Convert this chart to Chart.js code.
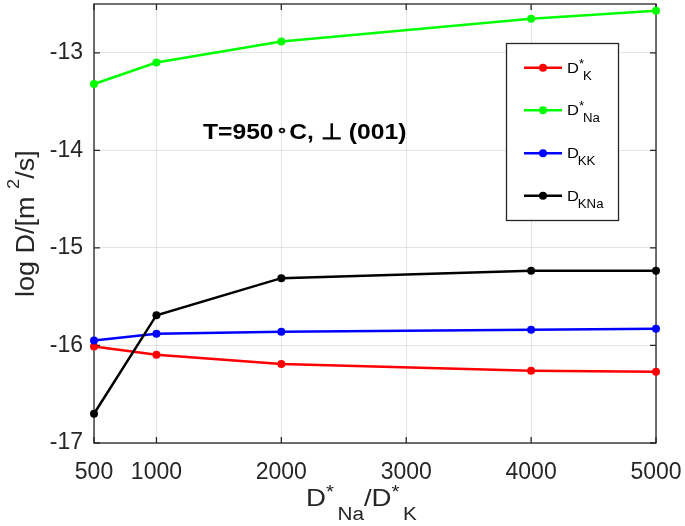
<!DOCTYPE html>
<html><head><meta charset="utf-8">
<style>html,body{margin:0;padding:0;background:#fff}canvas{display:block}</style>
<script src="https://cdn.jsdelivr.net/npm/chart.js@4"></script>
</head><body>
<canvas id="c" width="685" height="526"></canvas>
<script>
// ---- data ----
const xValues = [500, 1000, 2000, 4000, 5000];
const dStarK  = [-16.01, -16.095, -16.19, -16.26, -16.27];
const dStarNa = [-13.32, -13.10, -12.885, -12.65, -12.57];
const dKK     = [-15.95, -15.88, -15.86, -15.84, -15.83];
const dKNa    = [-16.70, -15.69, -15.31, -15.235, -15.235];
const xTicks = [500, 1000, 2000, 3000, 4000, 5000];
const yTicks = [-17, -16, -15, -14, -13];
const seriesLabels = [
  [["D",""],["*","sup"],["K","sub"]],
  [["D",""],["*","sup"],["Na","sub"]],
  [["D",""],["KK","sub"]],
  [["D",""],["KNa","sub"]]
];
const seriesColors = ["#ff0000", "#00ff00", "#0000ff", "#000000"];
const xLabel = [["D",""],["*","sup"],["Na","sub"],["/D",""],["*","sup"],["K","sub"]];
const yLabel = [["log D/[m ",""],["2","sup"],["/s]",""]];
const annotation = [["T=950",""],["\u2218","deg"],["C, ",""],["\u22A5",""],[" (001)",""]];

const FONT = "'Liberation Sans', Arial, Helvetica, sans-serif";
const AX = "#262626";

function toPts(ys){ return xValues.map((x,i)=>({x:x, y:ys[i]})); }
const allSeries = [dStarK, dStarNa, dKK, dKNa];

function drawRich(ctx, parts, x, y, o){
  ctx.save();
  ctx.translate(x, y);
  ctx.scale(o.sx || 1, 1);
  let cx = 0;
  const w = o.bold ? "bold " : "";
  for (const [t, k] of parts){
    let size = o.fs, dy = 0;
    if (k === "sup"){ size = o.ss; dy = -o.sup; }
    else if (k === "sub"){ size = o.ss; dy = o.sub; cx += (o.gapSub||0); }
    else if (k === "deg"){ size = o.fs*0.75; dy = -o.fs*0.18; cx += 2; }
    ctx.font = w + size + "px " + FONT;
    ctx.textBaseline = "alphabetic";
    ctx.textAlign = "left";
    ctx.fillText(t, cx, dy);
    cx += ctx.measureText(t).width + (k === "deg" ? 1 : 0);
  }
  ctx.restore();
}

const deco = {
  id: "deco",
  beforeDatasetsDraw(chart){
    const {ctx, chartArea:a, scales} = chart;
    ctx.save();
    ctx.strokeStyle = AX;
    ctx.lineWidth = 1.3;
    ctx.strokeRect(a.left, a.top, a.right - a.left, a.bottom - a.top);
    ctx.beginPath();
    for (const v of xTicks){
      const px = scales.x.getPixelForValue(v);
      ctx.moveTo(px, a.bottom); ctx.lineTo(px, a.bottom - 6);
      ctx.moveTo(px, a.top); ctx.lineTo(px, a.top + 6);
    }
    for (const v of yTicks){
      const py = scales.y.getPixelForValue(v);
      ctx.moveTo(a.left, py); ctx.lineTo(a.left + 6, py);
      ctx.moveTo(a.right, py); ctx.lineTo(a.right - 6, py);
    }
    ctx.stroke();
    ctx.restore();
  },
  afterDraw(chart){
    const {ctx} = chart;
    ctx.save();
    ctx.fillStyle = AX;
    // x label
    drawRich(ctx, xLabel, 306, 506, {fs:24, ss:18, sup:8, sub:14, sx:1.15, gapSub:3});
    // y label rotated
    ctx.save();
    ctx.translate(33.5, 297);
    ctx.rotate(-Math.PI/2);
    drawRich(ctx, yLabel, 0, 0, {fs:25, ss:17, sup:15, sub:0, sx:1.08});
    ctx.restore();
    // annotation
    ctx.fillStyle = "#000";
    drawRich(ctx, annotation, 203, 139, {fs:22, ss:15, sup:0, sub:0, sx:1.12, bold:true});
    // legend
    const L = 506.5, T = 43.5, R = 618.5, B = 220.5;
    ctx.fillStyle = "#fff";
    ctx.fillRect(L, T, R-L, B-T);
    ctx.strokeStyle = AX;
    ctx.lineWidth = 1.3;
    ctx.strokeRect(L, T, R-L, B-T);
    const rows = [67.7, 110.3, 153.3, 195.7];
    seriesLabels.forEach((parts, i) => {
      const y = rows[i];
      ctx.strokeStyle = seriesColors[i];
      ctx.fillStyle = seriesColors[i];
      ctx.lineWidth = 2.5;
      ctx.beginPath(); ctx.moveTo(524, y); ctx.lineTo(562, y); ctx.stroke();
      ctx.beginPath(); ctx.arc(543, y, 4, 0, Math.PI*2); ctx.fill();
      ctx.fillStyle = "#000";
      drawRich(ctx, parts, 567, y + 5, {fs:15, ss:12, sup:5, sub:7, sx:1.1, gapSub:-1});
    });
    ctx.restore();
  }
};

const ds = allSeries.map((s, i) => ({
  label: "s" + i,
  data: toPts(s),
  borderColor: seriesColors[i],
  backgroundColor: seriesColors[i],
  borderWidth: 2.5,
  pointRadius: 4,
  pointBorderWidth: 0,
  pointHoverRadius: 4,
  tension: 0,
  fill: false,
  clip: false,
  order: 4 - i
}));

function zeroPad(s){ s.paddingTop = 0; s.paddingBottom = 0; s.paddingLeft = 0; s.paddingRight = 0; }

const gridColor = "rgba(38,38,38,0.12)";
new Chart(document.getElementById("c"), {
  type: "line",
  data: { datasets: ds },
  options: {
    responsive: false,
    animation: false,
    devicePixelRatio: 1,
    layout: { padding: { top: 1, right: 29, left: 0, bottom: 0 } },
    plugins: { legend: { display: false }, tooltip: { enabled: false } },
    scales: {
      x: {
        type: "linear", min: 500, max: 5000,
        afterBuildTicks: s => { s.ticks = xTicks.map(v => ({ value: v })); },
        afterFit: s => { s.height = 83; zeroPad(s); },
        grid: { color: gridColor, drawTicks: false },
        border: { display: false },
        ticks: { font: { family: FONT, size: 23 }, color: AX, padding: 16, maxRotation: 0, autoSkip: false, callback: v => String(v) }
      },
      y: {
        min: -17, max: -12.5,
        afterBuildTicks: s => { s.ticks = yTicks.map(v => ({ value: v })); },
        afterFit: s => { s.width = 94; zeroPad(s); },
        grid: { color: gridColor, drawTicks: false },
        border: { display: false },
        ticks: { font: { family: FONT, size: 23 }, color: AX, padding: 11, autoSkip: false, callback: v => String(v) }
      }
    }
  },
  plugins: [deco]
});
</script>
</body></html>
